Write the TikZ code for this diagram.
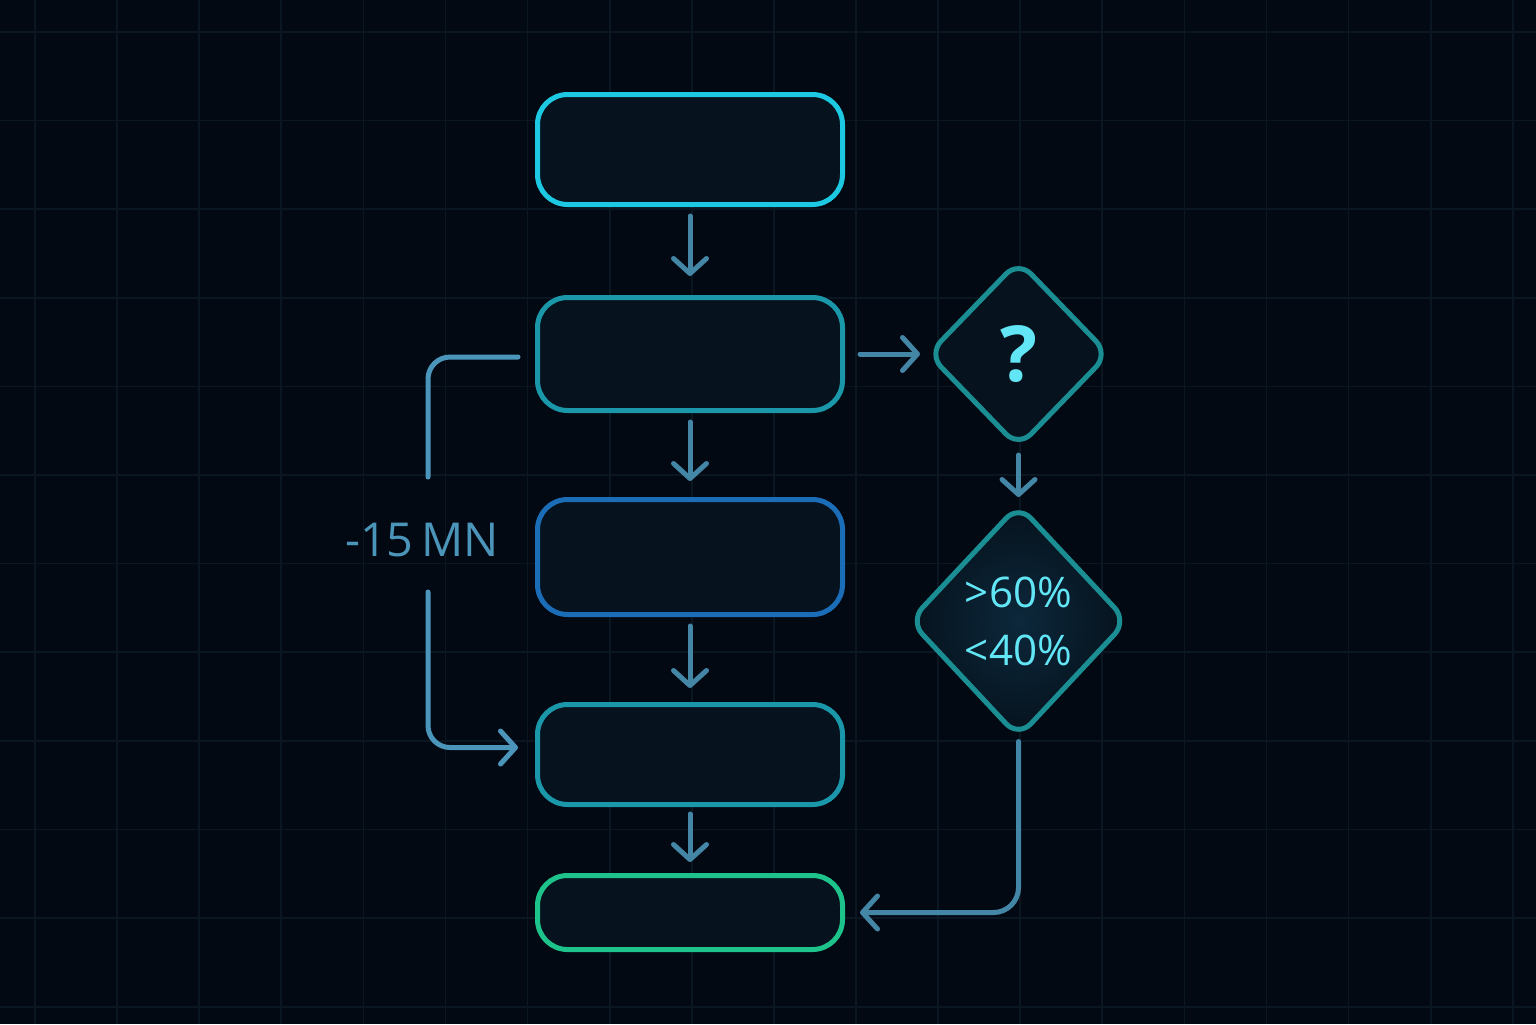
\documentclass[tikz,border=0pt]{standalone}
\usepackage{fontspec}
\setmainfont{Open Sans}
\usepackage{xcolor}
\usepackage{tikz}
\usetikzlibrary{positioning, arrows.meta, shapes.geometric}

\definecolor{fundo}{HTML}{030913}
\definecolor{gradecor}{HTML}{0A1722}
\definecolor{preench}{HTML}{06121D}
\definecolor{brilho}{HTML}{0C283B}
\definecolor{ciano}{HTML}{1CC8E2}
\definecolor{petroleo}{HTML}{1A98AA}
\definecolor{azul}{HTML}{1B6DB7}
\definecolor{verde}{HTML}{1DC38B}
\definecolor{losborda}{HTML}{1A8E93}
\definecolor{setacor}{HTML}{4386A6}
\definecolor{lacocor}{HTML}{4C95BA}
\definecolor{textociano}{HTML}{62E6F6}

\begin{document}
\begin{tikzpicture}[
  node distance = 0.85cm and 0.8cm,
  caixa/.style = {draw=#1, line width=0.5mm, rounded corners=0.3cm, fill=preench, minimum width=3.05cm, inner sep=0pt},
  losango/.style = {diamond, draw=losborda, line width=0.5mm, rounded corners=0.18cm, fill=preench, inner sep=0pt, text=textociano},
  ponta/.style = {-{Straight Barb[length=1.5mm, width=3.3mm, round]}},
  seta/.style = {ponta, draw=setacor, line width=0.5mm, line cap=round, shorten <=0.09cm, shorten >=0.15cm},
  laco/.style = {draw=lacocor, line width=0.5mm, line cap=round, rounded corners=0.22cm},
  rotulo/.style = {text=lacocor, font=\fontsize{13.3}{15}\selectfont},
  grade/.style = {draw=gradecor, line width=0.5pt},
]
\useasboundingbox (0,0) rectangle (15.36,-10.24);
\fill[fundo] (0,0) rectangle (15.36,-10.24);
\foreach \i in {0,...,18} \draw[grade] ({0.35+0.821*\i},0) -- ++(0,-10.24);
\foreach \j in {0,...,11} \draw[grade] (0,{-0.32-0.886*\j}) -- ++(15.36,0);

\node[caixa=ciano, minimum height=1.10cm] (a) at (6.90,-1.495) {};
\node[caixa=petroleo, minimum height=1.13cm, below=0.88cm of a] (b) {};
\node[caixa=azul, minimum height=1.15cm, below=0.84cm of b] (c) {};
\node[caixa=petroleo, minimum height=1.00cm, below=0.85cm of c] (d) {};
\node[caixa=verde, minimum height=0.74cm, below=0.66cm of d] (e) {};
\node[losango, minimum width=1.82cm, minimum height=1.88cm, right=0.80cm of b, font=\fontsize{22}{24}\selectfont\bfseries] (q) {?};
\node[losango, minimum width=2.19cm, minimum height=2.34cm, below=0.51cm of q, inner color=brilho, outer color=preench, align=center, font=\fontsize{12}{16.5}\selectfont] (r) {>60\%\\<40\%};
\node[rotulo] (t) at (4.22,-5.40) {-15\,MN};
\coordinate (t1) at (4.28,-4.77);
\coordinate (t2) at (4.28,-5.92);

\draw[seta, shorten >=0.19cm] (a) -- (b); \draw[seta, shorten >=0.16cm] (b) -- (c);
\draw[seta, shorten >=0.14cm] (c) -- (d); \draw[seta, shorten <=0.07cm, shorten >=0.11cm] (d) -- (e);
\draw[seta, shorten <=0.15cm, shorten >=0.05cm] (b) -- (q);
\draw[seta, shorten <=0.045cm, shorten >=0.045cm] (q) -- (r);
\draw[seta, rounded corners=0.25cm, shorten <=0.01cm] (r.south) |- (e.east);
\draw[laco] ([xshift=-0.17cm, yshift=-0.03cm]b.west) -| (t1);
\draw[laco, ponta] (t2) |- ([xshift=-0.17cm, yshift=0.07cm]d.west);
\end{tikzpicture}
\end{document}
